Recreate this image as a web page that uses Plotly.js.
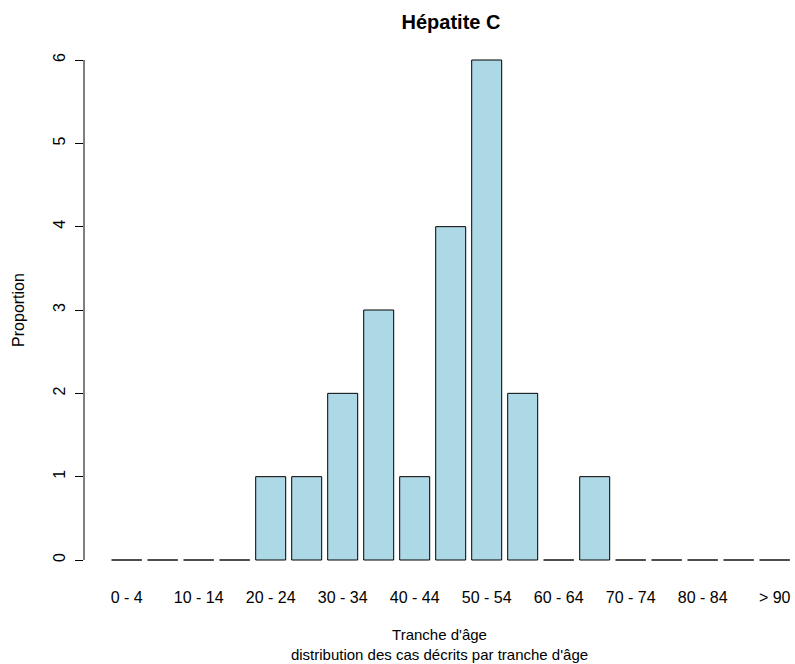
<!DOCTYPE html>
<html>
<head>
<meta charset="utf-8">
<script src="https://cdn.plot.ly/plotly-3.0.1.min.js"></script>
<style>html,body{margin:0;padding:0;background:#fff;}#chart{width:795px;height:664px;}</style>
</head>
<body>
<div id="chart"></div>
<script>
const categories = ["0 - 4","5 - 9","10 - 14","15 - 19","20 - 24","25 - 29","30 - 34","35 - 39","40 - 44","45 - 49","50 - 54","55 - 59","60 - 64","65 - 69","70 - 74","75 - 79","80 - 84","85 - 89","> 90"];
const values = [0,0,0,0,1,1,2,3,1,4,6,2,0,1,0,0,0,0,0];
const yTicks = [0,1,2,3,4,5,6];
const titleText = "Hépatite C";
const xTitle = "Tranche d'âge<br>distribution des cas décrits par tranche d'âge";
const yTitle = "Proportion";

const idx = categories.map((_, i) => i);
const halfBar = 0.5 * (1 / 1.2);

// zero-height bars are drawn by R as a flat outline; reproduce with line segments
const zx = [], zy = [];
values.forEach((v, i) => {
  if (v === 0) { zx.push(i - halfBar, i + halfBar, null); zy.push(0, 0, null); }
});

const traces = [
  {
    type: 'bar', x: idx, y: values,
    marker: { color: '#ADD8E6', line: { color: '#000', width: 1 } },
    hoverinfo: 'skip'
  },
  {
    type: 'scatter', mode: 'lines', x: zx, y: zy,
    line: { color: '#555', width: 1.3 }, hoverinfo: 'skip', connectgaps: false
  }
];

const font = { family: 'Arial, "Liberation Sans", sans-serif', size: 16, color: '#000' };

const layout = {
  width: 795, height: 664,
  margin: { l: 84, r: 0, t: 40, b: 84 },
  paper_bgcolor: '#fff', plot_bgcolor: '#fff',
  showlegend: false,
  bargap: 0.2 / 1.2,
  font: font,
  title: {
    text: '<b>' + titleText + '</b>',
    font: { family: font.family, size: 20, color: '#000' },
    x: 451 / 795, xref: 'container', xanchor: 'center',
    y: 1 - 22 / 664, yref: 'container', yanchor: 'middle'
  },
  xaxis: {
    range: [-1.186, -1.186 + 711 / 36],
    showgrid: false, zeroline: false, showline: false,
    tickmode: 'array',
    tickvals: idx.filter(i => i % 2 === 0),
    ticktext: categories.filter((_, i) => i % 2 === 0),
    ticks: '', ticklabelstandoff: 6,
    tickfont: font,
    title: { text: xTitle, font: { family: font.family, size: 15, color: '#000' }, standoff: 24 }
  },
  yaxis: {
    range: [-0.24, 6.24],
    showgrid: false, zeroline: false, showline: false,
    tickmode: 'array', tickvals: yTicks, ticktext: yTicks.map(String),
    ticks: 'outside', ticklen: 8, tickcolor: '#000', tickwidth: 1,
    tickangle: -90, ticklabelstandoff: 4,
    tickfont: font,
    title: { text: yTitle, font: font, standoff: 21 }
  },
  shapes: [
    { type: 'line', xref: 'paper', yref: 'y', x0: 0, x1: 0,
      y0: yTicks[0], y1: yTicks[yTicks.length - 1], line: { color: '#000', width: 1 } }
  ]
};

Plotly.newPlot('chart', traces, layout, { staticPlot: true, displayModeBar: false });
</script>
</body>
</html>
